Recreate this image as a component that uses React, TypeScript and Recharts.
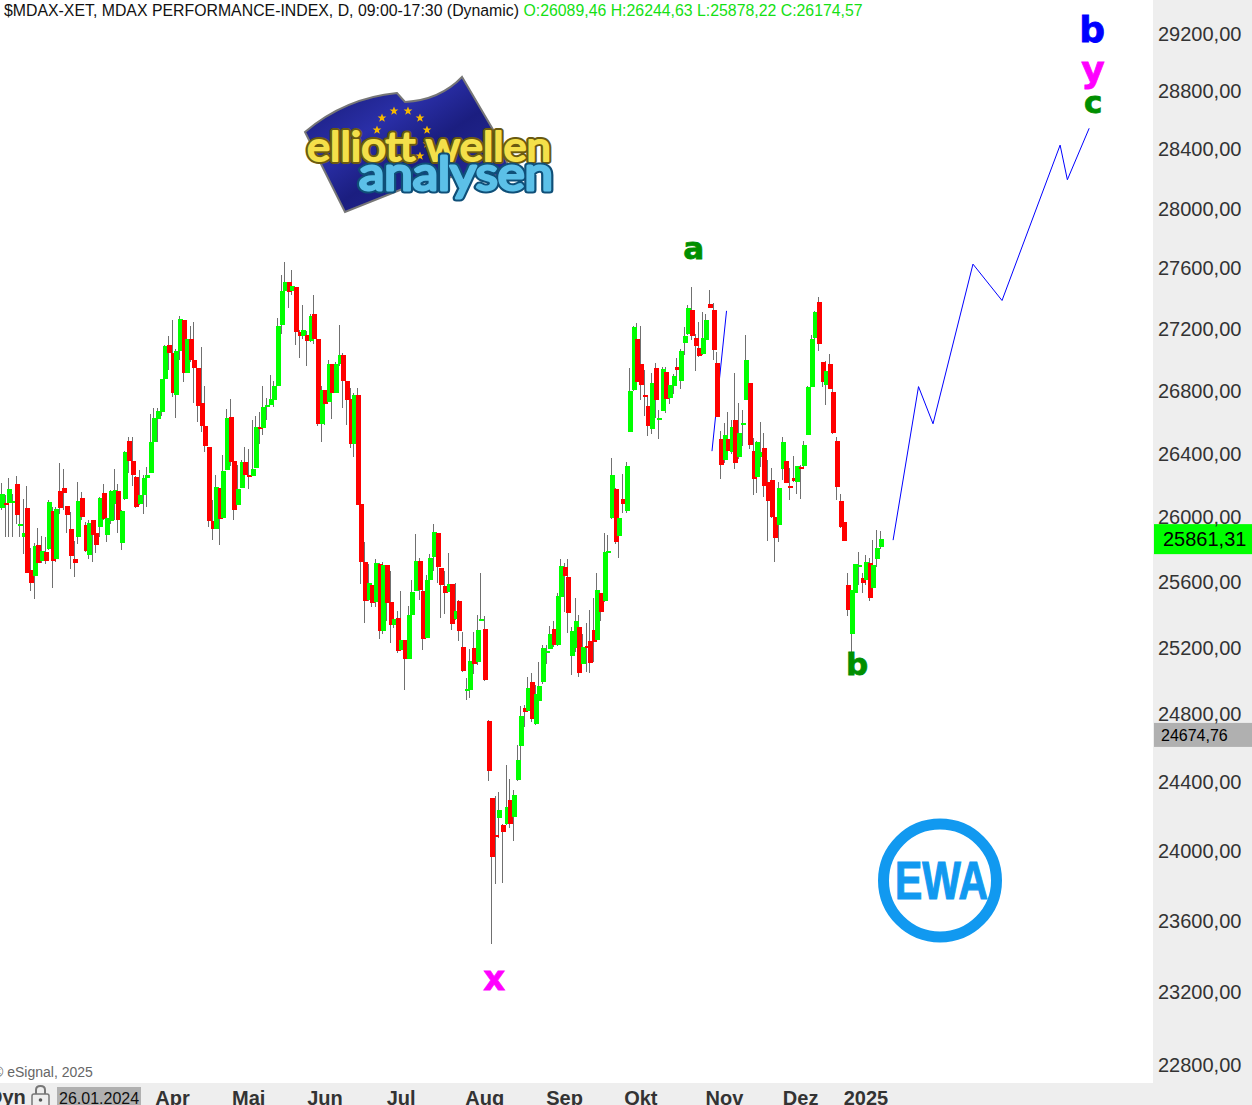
import React from 'react';
import {
  ComposedChart,
  Bar,
  Line,
  XAxis,
  YAxis,
  ReferenceDot,
  ReferenceLine,
} from 'recharts';

const opens = [
  26058,26088,26088,26088,26206,25944,25875,26056,25669,25631,
  25825,25725,25781,25800,26037,25738,26163,26181,26069,25925,
  25738,25875,26119,25950,25763,25981,25900,25938,26150,25888,
  25975,26081,26163,25838,26113,26477,26350,26250,26081,26138,
  26244,26275,26471,26619,26664,26871,27097,27045,26774,27058,
  27259,26916,27135,27000,26942,26723,26574,26439,25975,25925,
  26181,25994,26294,26632,26350,26075,26181,26344,26263,26256,
  26306,26568,26561,26697,26710,26742,26832,27226,27449,27508,
  27449,27475,27181,27150,27161,27123,27298,27135,26587,26806,
  26729,26968,26787,26968,27032,26864,26748,26458,26774,26081,
  25719,25485,25576,25473,25706,25297,25700,25473,25333,25376,
  25182,25242,25128,25394,25539,25725,25539,25255,25612,25750,
  25900,25681,25570,25533,25582,25370,25479,25200,24937,24943,
  25194,25109,25358,25309,24758,24303,24087,24187,24146,24151,
  24291,24192,24408,24610,24836,24818,24991,24741,24878,24991,
  25164,25188,25309,25212,25503,25692,25625,25146,25194,25321,
  25099,25206,25236,25303,25242,25527,25479,25774,25992,26175,
  25880,26112,26036,26536,26804,27135,26973,26772,26702,26555,
  26947,26613,26670,26921,26753,26830,26954,26863,27109,27168,
  27325,27142,27077,27038,27129,27364,27325,26980,26491,26358,
  26491,26408,26613,26377,26581,26740,26850,26415,26251,26377,
  26434,26219,26232,25998,25948,26301,26352,26194,26244,26219,
  26314,26320,26517,26824,27142,27377,26986,26837,26973,26791,
  26479,26099,25967,25576,25279,25527,25687,25619,25606,25712,
  25558,25736,25811,
];

const closes = [
  26142,26075,26175,26098,26012,25956,25900,25652,25588,25819,
  25713,25788,25725,26094,25725,26050,26056,26150,26012,25756,
  25713,26100,26000,25788,25963,25888,25825,26119,25988,25994,
  26163,26169,25981,26037,26406,26350,26263,26063,26138,26244,
  26263,26471,26626,26671,26871,27090,27045,26781,27058,27266,
  26916,27135,26994,26942,26703,26574,26445,25975,25925,26187,
  25988,26288,26626,26344,26044,26175,26344,26263,26250,26300,
  26568,26555,26697,26710,26748,26826,27219,27449,27508,27443,
  27482,27181,27155,27194,27123,27285,27135,26587,26806,26716,
  26968,26781,26968,27032,26864,26742,26458,26774,26075,25719,
  25479,25588,25467,25712,25297,25700,25467,25333,25370,25176,
  25242,25128,25394,25533,25725,25545,25248,25612,25744,25906,
  25687,25576,25527,25582,25339,25418,25297,25057,24949,25117,
  25098,25303,25370,25004,24461,23960,24076,24233,24105,24251,
  24151,24320,24527,24788,24812,24955,24770,24919,24967,25194,
  25176,25279,25212,25509,25698,25636,25406,25297,25358,25045,
  25200,25194,25105,25230,25545,25412,25780,25786,26263,25842,
  25992,26080,26320,26798,27213,26856,26837,26760,26574,26850,
  26740,26625,26941,26747,26837,26895,26934,27057,27155,27338,
  27155,27090,27025,27142,27259,27338,27064,26631,26326,26517,
  26415,26568,26339,26530,26594,26999,26453,26238,26472,26408,
  26194,26099,25998,25867,26181,26472,26213,26181,26225,26320,
  26301,26453,26824,27135,27312,27103,26856,26928,26811,26530,
  26187,25936,25848,25424,25545,25705,25699,25588,25718,25497,
  25699,25804,25860,
];

const highs = [
  26210,26138,26244,26144,26256,26025,26113,26194,25806,25838,
  25931,25881,25875,26107,26063,26063,26338,26300,26069,26031,
  25850,26219,26156,25969,25981,25981,25981,26125,26206,26088,
  26169,26300,26206,26044,26413,26503,26503,26256,26294,26263,
  26313,26652,26690,26690,26877,27097,27154,27259,27071,27285,
  27259,27161,27219,27246,26942,27084,26832,26439,26107,26263,
  26181,26388,26684,26748,26350,26325,26356,26439,26426,26613,
  26639,26664,26826,26755,26897,26858,27272,27554,27640,27508,
  27587,27475,27194,27357,27187,27298,27423,27135,26832,26806,
  26994,26968,26981,27226,27045,26864,26813,26781,26813,26150,
  25844,25706,25576,25738,25712,25719,25700,25662,25442,25418,
  25539,25242,25448,25606,25894,25744,25545,25637,25769,25956,
  25900,25681,25662,25775,25582,25588,25485,25291,25015,25188,
  25291,25394,25655,25388,24764,24303,24315,24338,24151,24497,
  24414,24350,24616,24848,24854,25020,25045,24973,25110,25212,
  25212,25327,25358,25527,25741,25711,25741,25321,25497,25394,
  25279,25345,25424,25497,25655,25527,25898,25886,26371,26181,
  25992,26269,26345,26947,27220,27239,27220,26934,26772,26915,
  26980,26677,26954,26954,26837,26908,27012,27070,27213,27358,
  27476,27168,27246,27312,27299,27456,27371,27051,26543,26594,
  26664,26613,26915,26721,26677,27161,26850,26498,26479,26600,
  26530,26358,26307,26036,26219,26504,26402,26307,26383,26320,
  26326,26479,26830,27161,27318,27410,26986,26993,27038,26863,
  26504,26143,25979,25650,25545,25705,25780,25650,25761,25743,
  25854,25917,25910,
];

const lows = [
  26040,25877,25877,25877,25956,25877,25769,25652,25539,25491,
  25706,25713,25706,25794,25558,25719,26019,26044,25900,25675,
  25625,25831,25981,25781,25738,25719,25775,25875,25981,25844,
  25956,25981,25900,25794,26106,26275,26194,26056,26075,26019,
  26063,26275,26375,26471,26639,26813,26929,26761,26626,26994,
  26852,26916,26987,26723,26600,26535,26406,25938,25856,25925,
  25825,25988,26294,26319,25981,26075,26181,26250,26175,26256,
  26306,26458,26516,26613,26710,26697,26832,27167,27449,27338,
  27423,27097,27011,27135,26961,27116,27103,26574,26471,26581,
  26729,26619,26781,26955,26690,26581,26432,26375,26075,25582,
  25345,25479,25442,25442,25248,25279,25358,25224,25315,25164,
  25176,24943,25128,25394,25539,25485,25182,25255,25461,25662,
  25588,25376,25400,25533,25303,25364,25236,25051,24884,24895,
  25039,25091,25358,24998,24402,23470,23806,24070,23811,24146,
  24128,24052,24402,24527,24723,24812,24752,24735,24872,24979,
  25099,25188,25200,25206,25497,25412,25285,25032,25170,25021,
  25099,25051,25045,25111,25236,25358,25473,25700,25986,25830,
  25743,26023,26023,26536,26798,26850,26740,26638,26511,26523,
  26625,26491,26670,26658,26715,26779,26830,26810,27031,27161,
  27129,26928,27018,27031,27096,27338,26999,26631,26238,26339,
  26408,26396,26301,26364,26447,26740,26428,26137,26150,26314,
  26124,25848,25992,25718,25842,26232,26213,26105,26219,26143,
  26112,26314,26517,26824,27135,27057,26824,26708,26811,26523,
  26105,25930,25848,25388,25104,25430,25576,25527,25576,25479,
  25558,25687,25798,
];

// Elliott wave projection, drawn by hand on the original
const projectionIdx = [245, 252, 256, 267, 275, 291, 293, 299];
const projectionVals = [25855, 26825, 26587, 27625, 27385, 28425, 28190, 28540];
const earlyLegIdx = [195, 199];
const earlyLegVals = [26413, 27317];

const yTicks = [
  29200, 28800, 28400, 28000, 27600, 27200, 26800, 26400, 26000,
  25600, 25200, 24800, 24400, 24000, 23600, 23200, 22800,
];
const monthIdx = [47, 68, 89, 110, 133, 155, 176, 199, 220, 238];
const monthLabels = ['Apr', 'Mai', 'Jun', 'Jul', 'Aug', 'Sep', 'Okt', 'Nov', 'Dez', '2025'];

const lastPrice = 25861.31;
const refPrice = 24674.76;

const waveLabels = [
  { text: 'a', i: 190, price: 27733, color: '#008f00', size: 31, nudge: 2 },
  { text: 'x', i: 136, price: 23279, color: '#ff00ff', size: 34, nudge: -1.5 },
  { text: 'b', i: 236, price: 25098, color: '#008f00', size: 31, nudge: -1.5 },
  { text: 'b', i: 300, price: 29227, color: '#0000ff', size: 36, nudge: 1 },
  { text: 'y', i: 300, price: 28945, color: '#ff00ff', size: 36, nudge: 2 },
  { text: 'c', i: 300, price: 28724, color: '#008f00', size: 31, nudge: 2 },
];

const starSpots = [[394, 111], [408, 111], [382, 118], [420, 118], [427, 130], [377, 130], [427, 144], [420, 156]];

const SLOTS = 317;
const tableRows = Array.from({ length: SLOTS }, (_, i) => {
  const row: any = { i };
  if (i < opens.length) {
    row.open = opens[i];
    row.close = closes[i];
    row.wick = [lows[i], highs[i]];
    row.body = [Math.min(opens[i], closes[i]), Math.max(opens[i], closes[i])];
  }
  const p = projectionIdx.indexOf(i);
  if (p >= 0) row.projection = projectionVals[p];
  const e = earlyLegIdx.indexOf(i);
  if (e >= 0) row.earlyLeg = earlyLegVals[e];
  return row;
});

const GREEN = '#00ff00';
const RED = '#ff0000';
const ARIAL = '"Liberation Sans", Arial, sans-serif';
const DEJAVU = '"DejaVu Sans", sans-serif';
const PRICE_DOMAIN = [22698, 29432];

const WickShape = (p: any) => {
  if (!Number.isFinite(p.y) || !p.payload || p.payload.wick === undefined) return null;
  const top = Math.round(p.y);
  const bottom = Math.round(p.y + p.height);
  return <rect x={Math.round(p.x - 2) + 2} y={top} width={1} height={Math.max(bottom - top, 1)} fill="#707070" />;
};

const BodyShape = (p: any) => {
  if (!Number.isFinite(p.y) || !p.payload || p.payload.body === undefined) return null;
  const top = Math.round(p.y);
  const bottom = Math.round(p.y + p.height);
  return (
    <rect
      x={Math.round(p.x)}
      y={top}
      width={5}
      height={Math.max(bottom - top, 2)}
      fill={p.payload.close >= p.payload.open ? GREEN : RED}
    />
  );
};

const priceBox = (fill: string, text: string, height: number, fontSize: number, textX: number) => (props: any) => {
  const cy = props.viewBox.y;
  return (
    <g>
      <rect x={1154} y={cy - height / 2} width={98} height={height} fill={fill} />
      <text x={textX} y={cy} dy="0.36em" fontFamily={ARIAL} fontSize={fontSize} fill="#000">
        {text}
      </text>
    </g>
  );
};

const formatPrice = (v: number) => v.toFixed(2).replace('.', ',');

const Logo = () => (
  <svg width={1252} height={300} style={{ position: 'absolute', left: 0, top: 0, pointerEvents: 'none' }}>
    <defs>
      <linearGradient id="flag" x1="0" y1="0" x2="1" y2="1">
        <stop offset="0" stopColor="#15186e" />
        <stop offset="0.35" stopColor="#2a2fa8" />
        <stop offset="0.55" stopColor="#1b1e80" />
        <stop offset="1" stopColor="#2b30a0" />
      </linearGradient>
    </defs>
    <path
      d="M305 132 Q345 98 397 93 L405 102 Q440 100 462 77 L495 133 L512 175 L430 178 L345 212 Z"
      fill="url(#flag)"
      stroke="#777"
      strokeWidth={2}
    />
    {starSpots.map(([x, y]) => (
      <path
        key={`${x}-${y}`}
        transform={`translate(${x} ${y})`}
        d="M0 -4.5 L1.2 -1.4 L4.4 -1.4 L1.8 0.6 L2.8 3.8 L0 1.9 L-2.8 3.8 L-1.8 0.6 L-4.4 -1.4 L-1.2 -1.4 Z"
        fill="#f5b800"
      />
    ))}
    <text x={307} y={161} fontFamily="Lato, sans-serif" fontSize={40} textLength={244} lengthAdjust="spacingAndGlyphs"
      fill="#6a5a10" stroke="#6a5a10" strokeWidth={6} strokeLinejoin="round">
      elliott wellen
    </text>
    <text x={307} y={161} fontFamily="Lato, sans-serif" fontSize={40} textLength={244} lengthAdjust="spacingAndGlyphs"
      fill="#f4e04a" stroke="#f4e04a" strokeWidth={2} strokeLinejoin="round">
      elliott wellen
    </text>
    <text x={359} y={190} fontFamily="Lato, sans-serif" fontSize={46} textLength={194} lengthAdjust="spacingAndGlyphs"
      fill="#0f4f78" stroke="#0f4f78" strokeWidth={7} strokeLinejoin="round">
      analysen
    </text>
    <text x={359} y={190} fontFamily="Lato, sans-serif" fontSize={46} textLength={194} lengthAdjust="spacingAndGlyphs"
      fill="#5cc0e8" stroke="#5cc0e8" strokeWidth={3} strokeLinejoin="round">
      analysen
    </text>
  </svg>
);

const EwaBadge = () => (
  <svg width={1252} height={1105} style={{ position: 'absolute', left: 0, top: 0, pointerEvents: 'none' }}>
    <circle cx={940} cy={880.5} r={56.5} fill="none" stroke="#1199f0" strokeWidth={11} />
    <text x={895} y={899} fontFamily={ARIAL} fontWeight={700} fontSize={54} fill="#1199f0" stroke="#1199f0"
      strokeWidth={1.2} textLength={93} lengthAdjust="spacingAndGlyphs">
      EWA
    </text>
  </svg>
);

// the hand drawn legs sit between two trading days, so push them by a fraction of a slot
const legShift = { transform: 'translateX(1.7px)' };

export default function App() {
  return (
    <div style={{ position: 'absolute', left: 0, top: 0, width: 1252, height: 1105, overflow: 'hidden', background: '#fff' }}>
      <div style={{ position: 'absolute', left: 1153, top: 0, width: 99, height: 1105, background: '#eeeeee' }} />
      <div style={{ position: 'absolute', left: 0, top: 1083, width: 1252, height: 22, background: '#eeeeee' }} />
      <div style={{ position: 'absolute', left: 57, top: 1087, width: 84, height: 18, background: '#b0b0b0' }} />

      {/* the short early leg lies behind the candles, so it gets its own chart underneath */}
      <div style={{ position: 'absolute', left: 0, top: 0 }}>
        <ComposedChart width={1252} height={1130} data={tableRows} margin={{ top: 0, right: 101, bottom: 47, left: 0 }}>
          <XAxis dataKey="i" type="category" hide />
          <YAxis scale="log" type="number" domain={PRICE_DOMAIN} allowDataOverflow hide />
          <Line dataKey="earlyLeg" stroke="#0000ff" strokeWidth={1} dot={false} connectNulls isAnimationActive={false} style={legShift} />
        </ComposedChart>
      </div>

      <div style={{ position: 'absolute', left: 0, top: 0 }}>
        <ComposedChart width={1252} height={1130} data={tableRows} margin={{ top: 0, right: 0, bottom: 0, left: 0 }}>
          <XAxis
            xAxisId="body"
            dataKey="i"
            type="category"
            ticks={monthIdx}
            interval={0}
            height={47}
            axisLine={false}
            tickLine={false}
            tickSize={0}
            tickMargin={8}
            tickFormatter={(v: number) => monthLabels[monthIdx.indexOf(v)]}
            tick={{ fontFamily: ARIAL, fontSize: 20, fontWeight: 700, fill: '#333333' }}
          />
          <XAxis xAxisId="wick" dataKey="i" type="category" hide />
          <YAxis
            orientation="right"
            scale="log"
            type="number"
            domain={PRICE_DOMAIN}
            allowDataOverflow
            ticks={yTicks}
            interval={0}
            width={101}
            axisLine={false}
            tickLine={false}
            tickSize={0}
            tickMargin={7}
            tickFormatter={formatPrice}
            tick={{ fontFamily: ARIAL, fontSize: 20, fill: '#333333', dy: 0.5 }}
          />
          <Bar xAxisId="wick" dataKey="wick" barSize={1} shape={WickShape} isAnimationActive={false} />
          <Bar xAxisId="body" dataKey="body" barSize={5} shape={BodyShape} isAnimationActive={false} />
          <Line xAxisId="body" dataKey="projection" stroke="#0000ff" strokeWidth={1} dot={false} connectNulls isAnimationActive={false} style={legShift} />
          <ReferenceLine xAxisId="body" y={lastPrice} stroke="none" label={priceBox(GREEN, formatPrice(lastPrice), 30, 20, 1163)} />
          <ReferenceLine xAxisId="body" y={refPrice} stroke="none" label={priceBox('#b0b0b0', formatPrice(refPrice), 24, 16, 1161)} />
          {waveLabels.map((w) => (
            <ReferenceDot
              key={`${w.text}-${w.i}`}
              xAxisId="body"
              x={w.i}
              y={w.price}
              r={0}
              stroke="none"
              label={{
                value: w.text,
                position: 'center',
                fill: w.color,
                stroke: w.color,
                strokeWidth: 0.8,
                fontSize: w.size,
                fontWeight: 700,
                fontFamily: DEJAVU,
                dx: w.nudge,
              }}
            />
          ))}
        </ComposedChart>
      </div>

      <Logo />
      <EwaBadge />

      <div style={{ position: 'absolute', left: 4, top: 2, font: `15.85px ${ARIAL}`, color: '#111', whiteSpace: 'nowrap' }}>
        $MDAX-XET, MDAX PERFORMANCE-INDEX, D, 09:00-17:30 (Dynamic){' '}
        <span style={{ color: '#14e014' }}>O:26089,46 H:26244,63 L:25878,22 C:26174,57</span>
      </div>
      <div style={{ position: 'absolute', left: -7, top: 1064, font: `14px ${ARIAL}`, color: '#666', whiteSpace: 'nowrap' }}>
        © eSignal, 2025
      </div>
      <div style={{ position: 'absolute', left: -12, top: 1086, font: `bold 20px ${ARIAL}`, color: '#333', whiteSpace: 'nowrap' }}>
        Dyn
      </div>
      <svg width={22} height={24} style={{ position: 'absolute', left: 30, top: 1084 }}>
        <path d="M6 10 V6 Q6 2 10.5 2 Q15 2 15 6 V10" fill="none" stroke="#777" strokeWidth={2} />
        <rect x={2} y={10} width={17} height={14} rx={2} fill="#eee" stroke="#777" strokeWidth={1.5} />
        <circle cx={10.5} cy={16} r={1.8} fill="#555" />
      </svg>
      <div style={{ position: 'absolute', left: 59, top: 1090, font: `16px ${ARIAL}`, color: '#111', whiteSpace: 'nowrap' }}>
        26.01.2024
      </div>
    </div>
  );
}
